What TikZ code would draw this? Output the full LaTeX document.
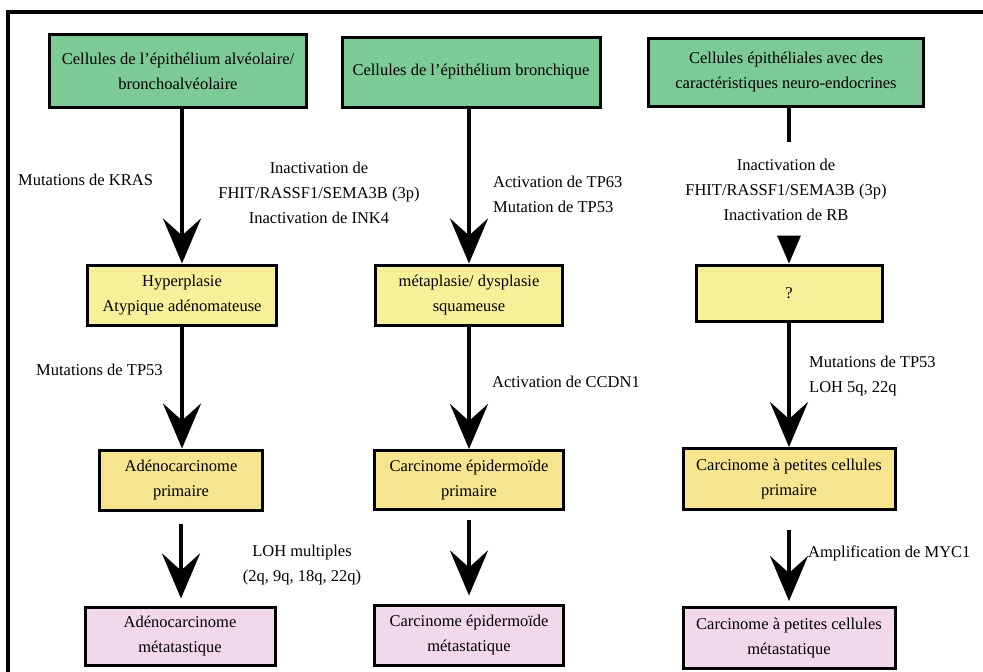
\documentclass[tikz,border=0pt]{standalone}
\usepackage{fontspec}
\setmainfont{Liberation Serif}
\usetikzlibrary{arrows.meta}

\definecolor{vertcell}{RGB}{124,202,150}
\definecolor{jaunelesion}{RGB}{246,241,152}
\definecolor{jauneprim}{RGB}{246,228,142}
\definecolor{rosemeta}{RGB}{241,216,236}

\tikzset{
  boite/.style={draw=black, line width=3pt, align=center, inner sep=2pt},
  cellbox/.style={boite, fill=vertcell},
  lesionbox/.style={boite, fill=jaunelesion},
  primbox/.style={boite, fill=jauneprim},
  metabox/.style={boite, fill=rosemeta},
  grossefleche/.style={line width=4.5pt, -{Stealth[length=45pt,width=38pt,inset=17pt]}},
  etiq/.style={inner sep=0pt, align=left, anchor=west},
  etiqc/.style={inner sep=0pt, align=center}
}

\begin{document}
\begin{tikzpicture}[x=1pt, y=-1pt, font=\fontsize{16.5}{25}\selectfont]
        \useasboundingbox (0,0) rectangle (983,672);
        %cadre
        \draw[line width=3.5pt] (8,672)-- (8,12)-- (983,12);
        %cellules d'origine
        \node[cellbox, minimum width=257pt, minimum height=73pt] (g1) at (178,71) {Cellules de l’épithélium alvéolaire/\\bronchoalvéolaire};
        \node[cellbox, minimum width=258pt, minimum height=70pt] (g2) at (471,72) {Cellules de l’épithélium bronchique};
        \node[cellbox, minimum width=275pt, minimum height=68pt] (g3) at (786,72) {Cellules épithéliales avec des\\caractéristiques neuro-endocrines};
        %lesions precancereuses
        \node[lesionbox, minimum width=189pt, minimum height=60pt] (h1) at (182,295) {Hyperplasie\\Atypique adénomateuse};
        \node[lesionbox, minimum width=187pt, minimum height=60pt] (h2) at (469,295) {métaplasie/ dysplasie\\squameuse};
        \node[lesionbox, minimum width=186pt, minimum height=56pt] (h3) at (789,293) {?};
        %carcinomes primaires
        \node[primbox, minimum width=163pt, minimum height=60pt] (a1) at (181,480) {Adénocarcinome\\primaire};
        \node[primbox, minimum width=189pt, minimum height=59pt] (a2) at (469,480) {Carcinome épidermoïde\\primaire};
        \node[primbox, minimum width=212pt, minimum height=61pt] (a3) at (789,479) {Carcinome à petites cellules\\primaire};
        %carcinomes metastatiques
        \node[metabox, minimum width=190pt, minimum height=58pt] (p1) at (180,636) {Adénocarcinome\\métatastique};
        \node[metabox, minimum width=189pt, minimum height=60pt] (p2) at (469,635) {Carcinome épidermoïde\\métastatique};
        \node[metabox, minimum width=212pt, minimum height=61pt] (p3) at (789,638) {Carcinome à petites cellules\\métastatique};
        %fleches
        \draw[grossefleche] (g1.south -| h1.north) -- (h1.north);
        \draw[grossefleche] (h1.south) -- (a1.north -| h1.south);
        \draw[grossefleche, shorten <=12pt, shorten >=7pt] (a1.south) -- (p1.north -| a1.south);
        \draw[grossefleche] (g2.south -| h2.north) -- (h2.north);
        \draw[grossefleche] (h2.south) -- (a2.north);
        \draw[grossefleche, shorten <=9pt, shorten >=8pt] (a2.south) -- (p2.north);
        \coordinate (stop3) at (789,142);
        \draw[line width=3.5pt] (g3.south -| stop3) -- (stop3);
        \fill (h3.north) -- ++(-12,-28) -- ++(24,0) -- cycle;
        \draw[grossefleche, line width=4pt] (h3.south) -- (a3.north);
        \draw[grossefleche, line width=4pt, shorten <=19pt, shorten >=5pt] (a3.south) -- (p3.north);
        %etiquettes
        \node[etiq] (kras) at (18,180) {Mutations de KRAS};
        \node[etiqc] (inact1) at (319,193) {Inactivation de\\FHIT/RASSF1/SEMA3B (3p)\\Inactivation de INK4};
        \node[etiq] (tp63) at (493,194) {Activation de TP63\\Mutation de TP53};
        \node[etiqc] (inact3) at (786,190) {Inactivation de\\FHIT/RASSF1/SEMA3B (3p)\\Inactivation de RB};
        \node[etiq] (tp53a) at (36,370) {Mutations de TP53};
        \node[etiq] (ccdn) at (492,382) {Activation de CCDN1};
        \node[etiq] (tp53c) at (809,376) {Mutations de TP53\\LOH 5q, 22q};
        \node[etiqc] (loh) at (302,565) {LOH multiples\\(2q, 9q, 18q, 22q)};
        \node[etiq] (myc) at (808,553) {Amplification de MYC1};
\end{tikzpicture}
\end{document}
